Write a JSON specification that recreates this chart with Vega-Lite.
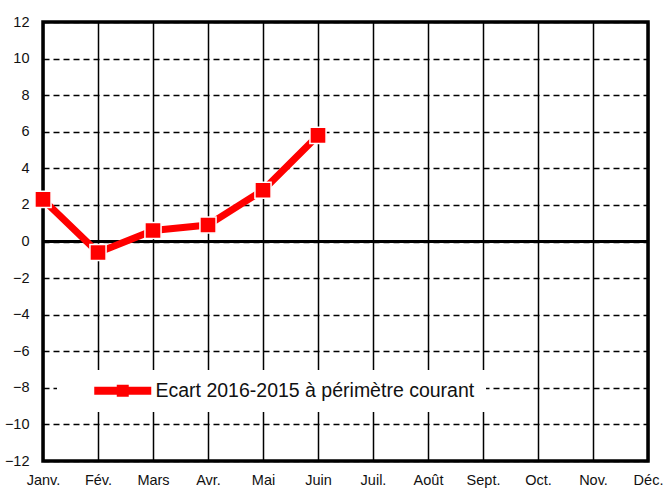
{
  "$schema": "https://vega.github.io/schema/vega-lite/v6.json",
  "width": 605,
  "height": 439,
  "autosize": {"type": "none"},
  "padding": {"left": 43, "top": 22, "right": 16, "bottom": 29},
  "background": "white",
  "config": {
    "font": "Liberation Sans, sans-serif",
    "view": {"stroke": "black", "strokeWidth": 3.5},
    "axis": {"labelFont": "Liberation Sans, sans-serif", "labelFontSize": 14.5, "labelColor": "#111"}
  },
  "data": {"values": [
    {"month": "Janv.", "value": 2.3, "series": "Ecart 2016-2015 à périmètre courant"},
    {"month": "Fév.", "value": -0.6, "series": "Ecart 2016-2015 à périmètre courant"},
    {"month": "Mars", "value": 0.6, "series": "Ecart 2016-2015 à périmètre courant"},
    {"month": "Avr.", "value": 0.9, "series": "Ecart 2016-2015 à périmètre courant"},
    {"month": "Mai", "value": 2.8, "series": "Ecart 2016-2015 à périmètre courant"},
    {"month": "Juin", "value": 5.8, "series": "Ecart 2016-2015 à périmètre courant"}
  ]},
  "encoding": {
    "x": {"field": "month", "type": "ordinal",
      "scale": {"type": "point", "padding": 0, "domain": ["Janv.", "Fév.", "Mars", "Avr.", "Mai", "Juin", "Juil.", "Août", "Sept.", "Oct.", "Nov.", "Déc."]},
      "axis": {"title": null, "labelAngle": 0, "domain": false, "ticks": false, "labelPadding": 12, "grid": true, "gridColor": "black", "gridWidth": 1.5, "gridOpacity": 1}},
    "y": {"field": "value", "type": "quantitative",
      "scale": {"domain": [-12, 12], "nice": false, "zero": false},
      "axis": {"title": null, "values": [-12, -10, -8, -6, -4, -2, 0, 2, 4, 6, 8, 10, 12], "domain": false, "ticks": false, "labelPadding": 14, "grid": true, "gridColor": "black", "gridWidth": 1.5, "gridDash": [6, 4], "gridOpacity": 1}}
  },
  "layer": [
    {"mark": {"type": "rule", "color": "black", "strokeWidth": 3}, "encoding": {"y": {"datum": 0}, "x": {"value": 0}, "x2": {"value": 605}}},
    {"mark": {"type": "line", "strokeWidth": 7, "strokeCap": "round", "strokeJoin": "round"},
      "encoding": {"color": {"field": "series", "type": "nominal", "scale": {"range": ["#ff0000"]},
        "legend": {"title": null, "orient": "none", "legendX": 14, "legendY": 348, "fillColor": "white", "padding": 11,
          "symbolType": "M-3,-0.42H3V0.42H-3Z M-0.63,-0.63H0.63V0.63H-0.63Z", "symbolSize": 361, "symbolFillColor": "#ff0000", "symbolStrokeWidth": 0, "symbolOffset": 45,
          "labelFontSize": 19.5, "labelColor": "#111", "labelOffset": 23, "labelFont": "Liberation Sans, sans-serif", "labelLimit": 500}}}},
    {"mark": {"type": "point", "shape": "square", "filled": true, "size": 260, "color": "#ff0000", "stroke": "white", "strokeWidth": 1.5, "opacity": 1}}
  ]
}
